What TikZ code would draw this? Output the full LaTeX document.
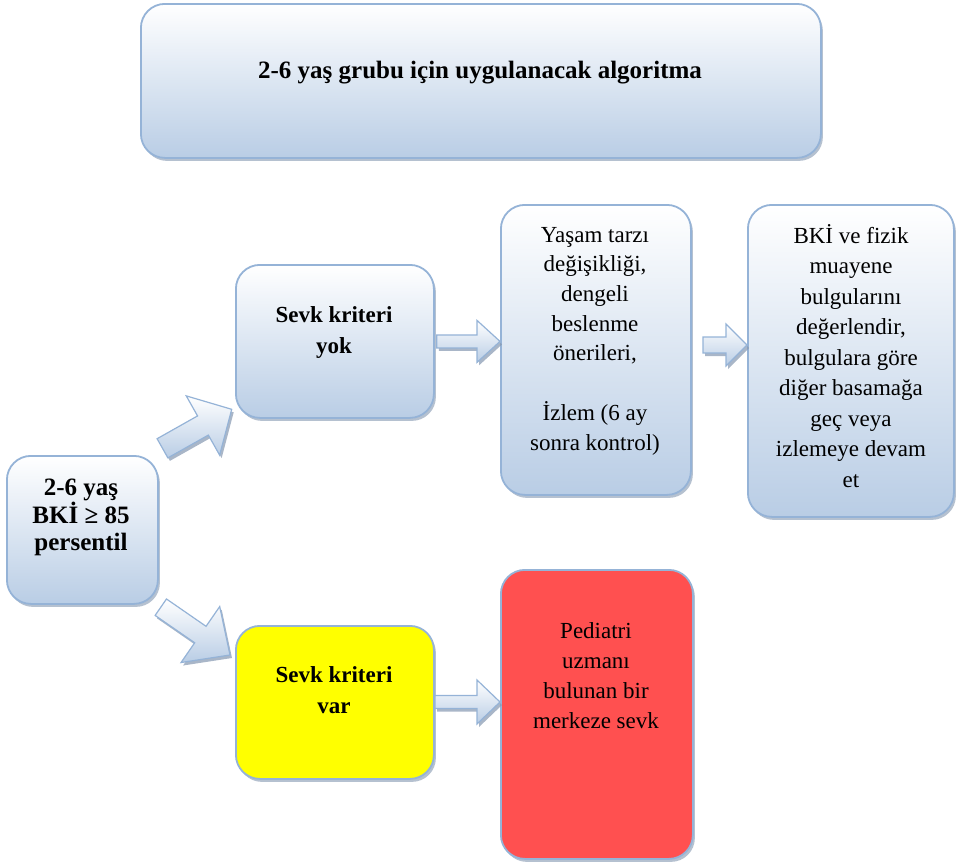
\documentclass[tikz,border=0pt]{standalone}
\usepackage{fontspec}
\setmainfont{Liberation Serif}
\usetikzlibrary{calc,shadows}

\definecolor{edgeblue}{HTML}{95B3D7}
\definecolor{fillblue}{HTML}{B9CDE5}
\definecolor{shadeblue}{HTML}{8497B0}
\definecolor{boxyellow}{HTML}{FFFF00}
\definecolor{boxred}{HTML}{FF5050}

\tikzset{
  panelbase/.style={draw=edgeblue, line width=1.8pt, rounded corners=24pt,
    anchor=north west, inner sep=0pt,
    drop shadow={shadow xshift=2pt, shadow yshift=-3pt, fill=shadeblue, opacity=0.6}},
  bluepanel/.style={panelbase, top color=white, bottom color=fillblue},
  yellowpanel/.style={panelbase, fill=boxyellow},
  redpanel/.style={panelbase, fill=boxred},
  % captions are placed by the baseline of their last line
  caption/.style={anchor=base, align=center, inner sep=0pt, text=black},
  regtext/.style={caption, font=\fontsize{23}{30}\selectfont},
  boldtext/.style={caption, font=\fontsize{23}{31}\selectfont\bfseries},
  arrowbody/.style={draw=edgeblue, line width=1.2pt, line join=miter,
    top color=white, bottom color=fillblue}
}

% block arrow: #1 tail, #2 tip, #3 shaft half width, #4 head half width, #5 head length
\newcommand\blockarrow[5]{%
  \coordinate (ba-hb) at ($(#2)!#5!(#1)$);
  \coordinate (ba-t1) at ($(#1)!#3!90:(#2)$);
  \coordinate (ba-t2) at ($(#1)!#3!-90:(#2)$);
  \coordinate (ba-s1) at ($(ba-hb)!#3!90:(#2)$);
  \coordinate (ba-s2) at ($(ba-hb)!#3!-90:(#2)$);
  \coordinate (ba-h1) at ($(ba-hb)!#4!90:(#2)$);
  \coordinate (ba-h2) at ($(ba-hb)!#4!-90:(#2)$);
  \fill[shadeblue, opacity=0.7, transform canvas={shift={(2pt,-3pt)}}]
    (ba-t1) -- (ba-s1) -- (ba-h1) -- (#2) -- (ba-h2) -- (ba-s2) -- (ba-t2) -- cycle;
  \draw[arrowbody]
    (ba-t1) -- (ba-s1) -- (ba-h1) -- (#2) -- (ba-h2) -- (ba-s2) -- (ba-t2) -- cycle;
}

\begin{document}
\begin{tikzpicture}[x=1pt, y=-1pt]
\useasboundingbox (0,0) rectangle (956,862);

% boxes
\node[bluepanel, minimum width=680pt, minimum height=154pt] (title) at (140,3) {};
\node[bluepanel, minimum width=151pt, minimum height=148pt] (start) at (6,455) {};
\node[bluepanel, minimum width=198pt, minimum height=153pt] (nocrit) at (235,264) {};
\node[bluepanel, minimum width=190pt, minimum height=290pt] (life) at (500,204) {};
\node[bluepanel, minimum width=206pt, minimum height=312pt] (eval) at (747,204) {};
\node[yellowpanel, minimum width=198pt, minimum height=153pt] (crit) at (235,625) {};
\node[redpanel, minimum width=192pt, minimum height=289pt] (refer) at (500,569) {};

% texts
\node[caption, font=\fontsize{25}{30}\selectfont\bfseries] (titletext) at (480,78)
  {2-6 yaş grubu için uygulanacak algoritma};
\node[caption, font=\fontsize{25}{26.5}\selectfont\bfseries] (starttext) at (81,550)
  {2-6 yaş\\BKİ ≥ 85\\persentil};
\node[boldtext] (nocrittext) at (334,353) {Sevk kriteri\\yok};
\node[boldtext] (crittext) at (334,713) {Sevk kriteri\\var};
\node[regtext, font=\fontsize{23}{29.7}\selectfont] (lifetext) at (595,450)
  {Yaşam tarzı\\değişikliği,\\dengeli\\beslenme\\önerileri,\\[29.7pt]İzlem (6 ay\\sonra kontrol)};
\node[regtext, font=\fontsize{23}{30.5}\selectfont] (evaltext) at (851,487)
  {BKİ ve fizik\\muayene\\bulgularını\\değerlendir,\\bulgulara göre\\diğer basamağa\\geç veya\\izlemeye devam\\et};
\node[regtext] (refertext) at (596,728)
  {Pediatri\\uzmanı\\bulunan bir\\merkeze sevk};

% block arrows between the boxes
\coordinate (up-tail) at (162.5,448.3);
\coordinate (up-tip) at (231.7,409.3);
\coordinate (down-tail) at (160.8,607.2);
\coordinate (down-tip) at (230,655);
\coordinate (a1-tail) at ($(nocrit.east)+(2,0)$);
\coordinate (a1-tip) at (life.west |- a1-tail);
\coordinate (a2-tail) at (703,345);
\coordinate (a2-tip) at (eval.west |- a2-tail);
\coordinate (a3-tail) at (435,702);
\coordinate (a3-tip) at (refer.west |- a3-tail);

\blockarrow{up-tail}{up-tip}{11pt}{34pt}{33pt}
\blockarrow{down-tail}{down-tip}{10pt}{34pt}{36pt}
\blockarrow{a1-tail}{a1-tip}{6.5pt}{21pt}{23pt}
\blockarrow{a2-tail}{a2-tip}{8pt}{21pt}{21pt}
\blockarrow{a3-tail}{a3-tip}{6.5pt}{22pt}{23pt}
\end{tikzpicture}
\end{document}
